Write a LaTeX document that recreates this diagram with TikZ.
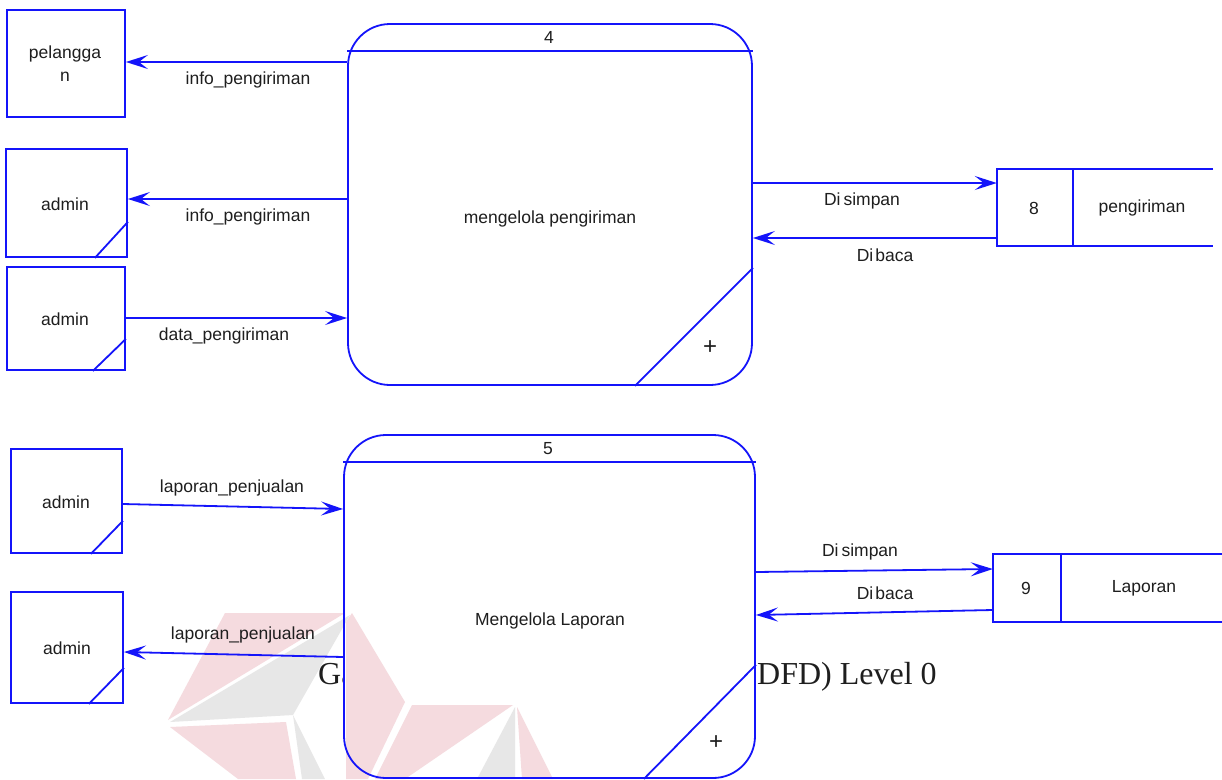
\documentclass[tikz,border=0pt]{standalone}
\usepackage{fontspec}
\setmainfont{Liberation Sans}
\newfontfamily\capfont{Liberation Serif}
\usetikzlibrary{arrows.meta,calc}
\definecolor{dfdblue}{RGB}{20,20,250}
\definecolor{txt}{RGB}{30,30,30}
\definecolor{wred}{RGB}{245,219,223}
\definecolor{wgrey}{RGB}{231,231,231}
\begin{document}
\begin{tikzpicture}[x=1pt,y=-1pt,
  every node/.style={font=\fontsize{17.5}{21}\selectfont, text=txt, inner sep=0pt},
  entity/.style={draw=dfdblue, line width=1.8pt, rectangle},
  proc/.style={draw=dfdblue, line width=1.8pt, rectangle, rounded corners=42pt},
  bline/.style={dfdblue, line width=1.8pt},
  flow/.style={dfdblue, line width=1.8pt, -{Stealth[length=22pt,width=14pt,inset=9pt]}},
  lbl/.style={font=\fontsize{17.5}{21}\selectfont},
  captext/.style={font=\capfont\fontsize{32}{36}\selectfont, anchor=base west, text=txt}]
\useasboundingbox (0,0) rectangle (1222,779);
\fill[white] (0,0) rectangle (1222,779);

% caption behind the process box
\node[captext] (capA) at (318,684) {Ga};
\node[captext] (capB) at (757,684) {DFD) Level 0};

% white fills of the processes
\fill[white, rounded corners=42pt] (348,24) rectangle (752,385);
\fill[white, rounded corners=42pt] (344,435) rectangle (755,778);

% watermark
\fill[wred] (225,613) -- (345,613) -- (168,720) -- cycle;
\fill[wgrey] (350,615) -- (170,722) -- (293,715) -- cycle;
\fill[wgrey] (293,715) -- (302,779) -- (325,779) -- cycle;
\fill[wred] (170,727) -- (286,722) -- (296,779) -- (238,779) -- cycle;
\fill[wred] (352,613) -- (405,702) -- (368,779) -- (346,779) -- (346,622) -- cycle;
\fill[wred] (412,705) -- (513,705) -- (405,779) -- (375,779) -- cycle;
\fill[wgrey] (515,707) -- (477,779) -- (515,779) -- cycle;
\fill[wred] (517,707) -- (522,779) -- (553,779) -- cycle;

% external entities
\node[entity, minimum width=118pt, minimum height=107pt] (pel) at (66,63.5) {};
\node[lbl] (pelt) at (65,66) {\begin{tabular}{@{}c@{}}pelangga\\[2pt]n\end{tabular}};
\node[entity, minimum width=121pt, minimum height=108pt] (a1) at (66.5,203) {};
\node[lbl] (a1t) at (65,204) {admin};
\draw[bline] ($(a1.south east)+(0,-36)$) -- ($(a1.south east)+(-33,0)$);
\node[entity, minimum width=118pt, minimum height=103pt] (a2) at (66,318.5) {};
\node[lbl] (a2t) at (65,319) {admin};
\draw[bline] ($(a2.south east)+(0,-32)$) -- ($(a2.south east)+(-33,0)$);
\node[entity, minimum width=111pt, minimum height=104pt] (a3) at (66.5,501) {};
\node[lbl] (a3t) at (66,502) {admin};
\draw[bline] ($(a3.south east)+(0,-33)$) -- ($(a3.south east)+(-32,0)$);
\node[entity, minimum width=112pt, minimum height=111pt] (a4) at (67,647.5) {};
\node[lbl] (a4t) at (67,648) {admin};
\draw[bline] ($(a4.south east)+(0,-36)$) -- ($(a4.south east)+(-35,0)$);

% process 4
\node[proc, minimum width=404pt, minimum height=361pt] (p4) at (550,204.5) {};
\draw[bline] (p4.west |- 0,51) -- (p4.east |- 0,51);
\node[lbl] (p4n) at (549,37) {4};
\node[lbl] (p4t) at (550,219) {mengelola pengiriman};
\draw[bline] ($(p4.south east)+(0,-118)$) -- ($(p4.south east)+(-118,0)$);
\node[font=\fontsize{24}{24}\selectfont] (p4p) at (710,348) {+};

% process 5
\node[proc, minimum width=411pt, minimum height=343pt] (p5) at (549.5,606.5) {};
\draw[bline] (p5.west |- 0,462) -- (p5.east |- 0,462);
\node[lbl] (p5n) at (548,449) {5};
\node[lbl] (p5t) at (550,621) {Mengelola Laporan};
\draw[bline] ($(p5.south east)+(0,-114)$) -- ($(p5.south east)+(-112,0)$);
\node[font=\fontsize{24}{24}\selectfont] (p5p) at (716,743) {+};

% data store 8
\node[minimum width=216pt, minimum height=77pt] (st8) at (1105,207.5) {};
\draw[bline] (st8.north east) -- (st8.north west) -- (st8.south west) -- (st8.south east);
\draw[bline] ($(st8.north west)+(76,0)$) -- ($(st8.south west)+(76,0)$);
\node[lbl] (st8n) at (1034,208) {8};
\node[lbl] (st8t) at (1142,208) {pengiriman};

% data store 9
\node[minimum width=229pt, minimum height=68pt] (st9) at (1107.5,588) {};
\draw[bline] (st9.north east) -- (st9.north west) -- (st9.south west) -- (st9.south east);
\draw[bline] ($(st9.north west)+(68,0)$) -- ($(st9.south west)+(68,0)$);
\node[lbl] (st9n) at (1026,588) {9};
\node[lbl] (st9t) at (1144,588) {Laporan};

% flows, upper part
\draw[flow] (p4.west |- 0,62) -- (pel.east |- 0,62);
\node[lbl] (l1) at (248,80) {info\_pengiriman};
\draw[flow] (p4.west |- 0,199) -- (a1.east |- 0,199);
\node[lbl] (l2) at (248,217) {info\_pengiriman};
\draw[flow] (a2.east |- 0,318) -- (p4.west |- 0,318);
\node[lbl] (l3) at (224,336) {data\_pengiriman};
\draw[flow] (p4.east |- 0,183) -- (st8.west |- 0,183);
\node[lbl] (l4) at (862,201) {Di\kern3pt simpan};
\draw[flow] (st8.west |- 0,238) -- (p4.east |- 0,238);
\node[lbl] (l5) at (885,255) {Di\kern2pt baca};

% flows, lower part
\draw[flow] (a3.east |- 0,504) -- (p5.west |- 0,509);
\node[lbl] (l6) at (232,488) {laporan\_penjualan};
\draw[flow] (p5.west |- 0,657) -- (a4.east |- 0,652);
\node[lbl] (l7) at (243,635) {laporan\_penjualan};
\draw[flow] (p5.east |- 0,572) -- (st9.west |- 0,569);
\node[lbl] (l8) at (860,552) {Di\kern3pt simpan};
\draw[flow] (st9.west |- 0,610) -- (p5.east |- 0,615);
\node[lbl] (l9) at (885,593) {Di\kern2pt baca};
\end{tikzpicture}
\end{document}
